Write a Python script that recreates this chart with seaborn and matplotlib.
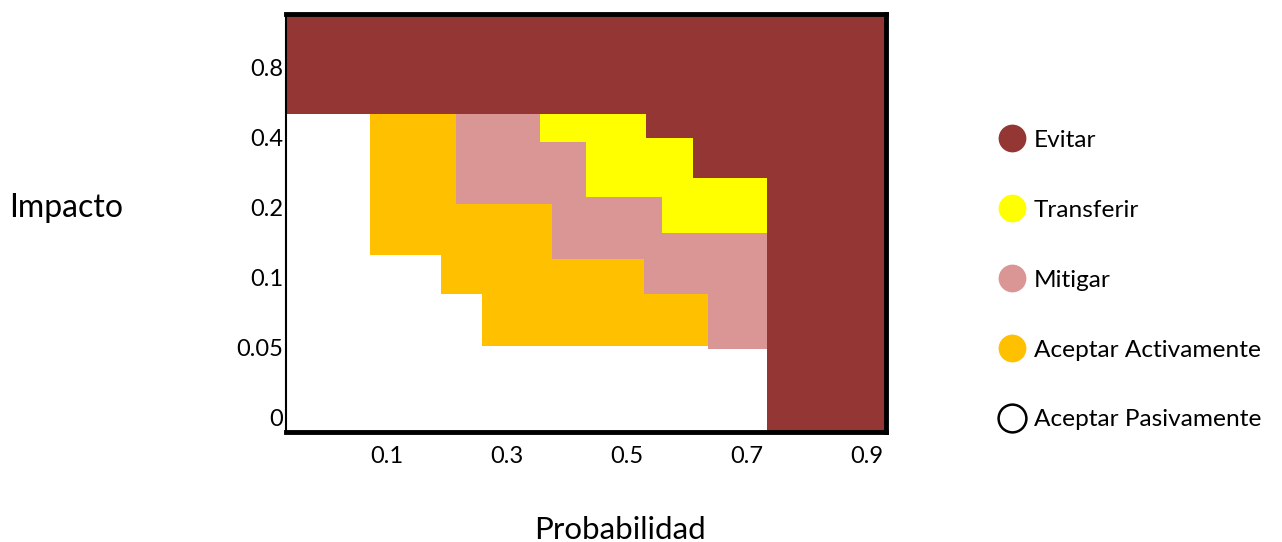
import numpy as np
import matplotlib
matplotlib.use("Agg")
import matplotlib.pyplot as plt
import seaborn as sns
from matplotlib.lines import Line2D

# ---- data ----
# x breakpoints of the staircase zones (probability scale)
x_breaks = [-0.068, 0.072, 0.19, 0.215, 0.258, 0.355, 0.375, 0.432,
            0.528, 0.532, 0.558, 0.61, 0.635, 0.733, 0.932]
# upper boundary (impact index scale) of each cumulative zone, one value per segment
h_pasivo = [4.343, 2.33, 1.77, 1.77, 1.03, 1.03, 1.03, 1.03, 1.03, 1.03, 1.03, 1.03, 0.986, -0.2]
h_activo = [4.343, 4.343, 4.343, 3.057, 3.057, 3.057, 2.27, 2.27, 1.77, 1.77, 1.77, 1.77, 0.986, -0.2]
h_mitigar = [4.343, 4.343, 4.343, 4.343, 4.343, 3.943, 3.943, 3.157, 3.157, 3.157, 2.643, 2.643, 2.643, -0.2]
h_transferir = [4.343, 4.343, 4.343, 4.343, 4.343, 4.343, 4.343, 4.343, 4.343, 4.0, 4.0, 3.429, 3.429, -0.2]
y_bottom = -0.2
y_top = 5.77

x_ticks = [0.1, 0.3, 0.5, 0.7, 0.9]
y_tick_labels = ["0", "0.05", "0.1", "0.2", "0.4", "0.8"]
categories = ["Evitar", "Transferir", "Mitigar", "Aceptar Activamente", "Aceptar Pasivamente"]
colors = {"Evitar": "#943634", "Transferir": "#FFFF00", "Mitigar": "#D99694",
          "Aceptar Activamente": "#FFC000", "Aceptar Pasivamente": "#FFFFFF"}

sns.set_theme(style="white")
plt.rcParams["font.family"] = ["Lato", "DejaVu Sans"]
plt.rcParams["text.color"] = "black"
plt.rcParams["axes.labelcolor"] = "black"

fig = plt.figure(figsize=(12.82, 5.42), dpi=100)
ax = fig.add_axes([0.2231, 0.2030, 0.468, 0.7712])

def ext(h):
    return list(h) + [h[-1]]

xb = x_breaks
bottom = [y_bottom] * len(xb)
ax.fill_between(xb, bottom, [y_top] * len(xb), color=colors["Evitar"], step="post", lw=0)
ax.fill_between(xb, bottom, ext(h_transferir), color=colors["Transferir"], step="post", lw=0)
ax.fill_between(xb, bottom, ext(h_mitigar), color=colors["Mitigar"], step="post", lw=0)
ax.fill_between(xb, bottom, ext(h_activo), color=colors["Aceptar Activamente"], step="post", lw=0)
ax.fill_between(xb, bottom, ext(h_pasivo), color=colors["Aceptar Pasivamente"], step="post", lw=0)

ax.set_xlim(x_breaks[0], x_breaks[-1])
ax.set_ylim(y_bottom, y_top)
ax.set_xticks(x_ticks)
ax.set_xticklabels([f"{v:g}" for v in x_ticks])
ax.set_yticks(range(len(y_tick_labels)))
ax.set_yticklabels(y_tick_labels)
ax.tick_params(axis="both", length=0, labelsize=17, colors="black")
ax.tick_params(axis="y", pad=2)
ax.tick_params(axis="x", pad=10)

for side, lw in [("left", 1.5), ("top", 3.5), ("right", 3.5), ("bottom", 3.5)]:
    ax.spines[side].set_visible(True)
    ax.spines[side].set_color("black")
    ax.spines[side].set_linewidth(lw)

ax.set_ylabel("Impacto", rotation=0, fontsize=23, ha="left", va="center")
ax.yaxis.set_label_coords(-0.462, 0.536)
ax.set_xlabel("Probabilidad", fontsize=22.5, ha="center", va="center")
ax.xaxis.set_label_coords(0.557, -0.235)

handles = []
for c in categories:
    edge = "black" if c == "Aceptar Pasivamente" else colors[c]
    handles.append(Line2D([0], [0], marker="o", linestyle="none", markersize=20,
                          markerfacecolor=colors[c], markeredgecolor=edge,
                          markeredgewidth=1.8 if c == "Aceptar Pasivamente" else 0))
leg = fig.legend(handles, categories, loc="upper left", bbox_to_anchor=(0.7681, 0.783),
                 frameon=False, fontsize=17.6, labelspacing=1.995, handletextpad=0.32,
                 handlelength=1.2, borderpad=0)
for t in leg.get_texts():
    t.set_color("black")

fig.savefig("out.png", dpi=100)
